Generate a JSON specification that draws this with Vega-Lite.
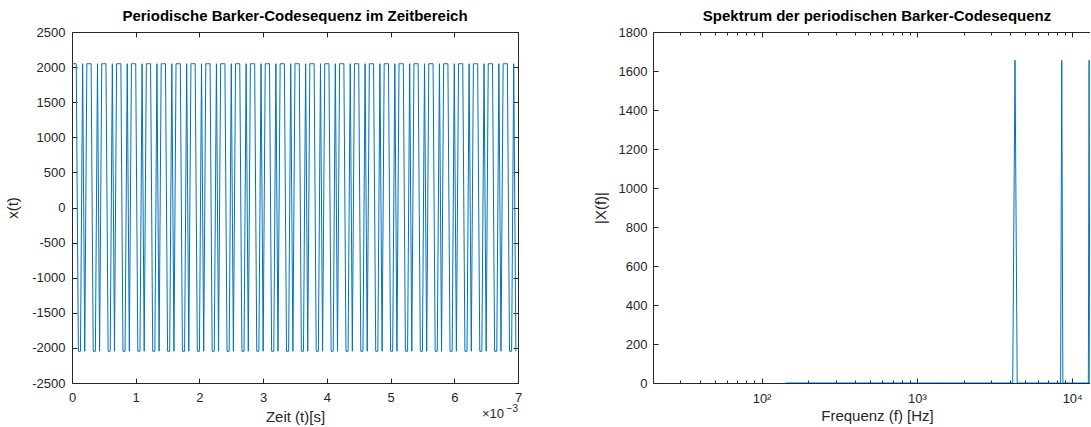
{
  "$schema": "https://vega.github.io/schema/vega-lite/v6.json",
  "background": "white",
  "padding": {"left": 5, "top": 8, "right": 0, "bottom": 0},
  "datasets": {
    "ts": [
      {"t":0,"x":2048},{"t":0.033,"x":2048},{"t":0.067,"x":2048},{"t":0.1,"x":-2048},{"t":0.133,"x":-2048},{"t":0.167,"x":2048},{"t":0.2,"x":-2048},
      {"t":0.233,"x":2048},{"t":0.267,"x":2048},{"t":0.3,"x":2048},{"t":0.333,"x":-2048},{"t":0.367,"x":-2048},{"t":0.4,"x":2048},{"t":0.433,"x":-2048},
      {"t":0.467,"x":2048},{"t":0.5,"x":2048},{"t":0.533,"x":2048},{"t":0.567,"x":-2048},{"t":0.6,"x":-2048},{"t":0.633,"x":2048},{"t":0.667,"x":-2048},
      {"t":0.7,"x":2048},{"t":0.733,"x":2048},{"t":0.767,"x":2048},{"t":0.8,"x":-2048},{"t":0.833,"x":-2048},{"t":0.867,"x":2048},{"t":0.9,"x":-2048},
      {"t":0.933,"x":2048},{"t":0.967,"x":2048},{"t":1,"x":2048},{"t":1.033,"x":-2048},{"t":1.067,"x":-2048},{"t":1.1,"x":2048},{"t":1.133,"x":-2048},
      {"t":1.167,"x":2048},{"t":1.2,"x":2048},{"t":1.233,"x":2048},{"t":1.267,"x":-2048},{"t":1.3,"x":-2048},{"t":1.333,"x":2048},{"t":1.367,"x":-2048},
      {"t":1.4,"x":2048},{"t":1.433,"x":2048},{"t":1.467,"x":2048},{"t":1.5,"x":-2048},{"t":1.533,"x":-2048},{"t":1.567,"x":2048},{"t":1.6,"x":-2048},
      {"t":1.633,"x":2048},{"t":1.667,"x":2048},{"t":1.7,"x":2048},{"t":1.733,"x":-2048},{"t":1.767,"x":-2048},{"t":1.8,"x":2048},{"t":1.833,"x":-2048},
      {"t":1.867,"x":2048},{"t":1.9,"x":2048},{"t":1.933,"x":2048},{"t":1.967,"x":-2048},{"t":2,"x":-2048},{"t":2.033,"x":2048},{"t":2.067,"x":-2048},
      {"t":2.1,"x":2048},{"t":2.133,"x":2048},{"t":2.167,"x":2048},{"t":2.2,"x":-2048},{"t":2.233,"x":-2048},{"t":2.267,"x":2048},{"t":2.3,"x":-2048},
      {"t":2.333,"x":2048},{"t":2.367,"x":2048},{"t":2.4,"x":2048},{"t":2.433,"x":-2048},{"t":2.467,"x":-2048},{"t":2.5,"x":2048},{"t":2.533,"x":-2048},
      {"t":2.567,"x":2048},{"t":2.6,"x":2048},{"t":2.633,"x":2048},{"t":2.667,"x":-2048},{"t":2.7,"x":-2048},{"t":2.733,"x":2048},{"t":2.767,"x":-2048},
      {"t":2.8,"x":2048},{"t":2.833,"x":2048},{"t":2.867,"x":2048},{"t":2.9,"x":-2048},{"t":2.933,"x":-2048},{"t":2.967,"x":2048},{"t":3,"x":-2048},
      {"t":3.033,"x":2048},{"t":3.067,"x":2048},{"t":3.1,"x":2048},{"t":3.133,"x":-2048},{"t":3.167,"x":-2048},{"t":3.2,"x":2048},{"t":3.233,"x":-2048},
      {"t":3.267,"x":2048},{"t":3.3,"x":2048},{"t":3.333,"x":2048},{"t":3.367,"x":-2048},{"t":3.4,"x":-2048},{"t":3.433,"x":2048},{"t":3.467,"x":-2048},
      {"t":3.5,"x":2048},{"t":3.533,"x":2048},{"t":3.567,"x":2048},{"t":3.6,"x":-2048},{"t":3.633,"x":-2048},{"t":3.667,"x":2048},{"t":3.7,"x":-2048},
      {"t":3.733,"x":2048},{"t":3.767,"x":2048},{"t":3.8,"x":2048},{"t":3.833,"x":-2048},{"t":3.867,"x":-2048},{"t":3.9,"x":2048},{"t":3.933,"x":-2048},
      {"t":3.967,"x":2048},{"t":4,"x":2048},{"t":4.033,"x":2048},{"t":4.067,"x":-2048},{"t":4.1,"x":-2048},{"t":4.133,"x":2048},{"t":4.167,"x":-2048},
      {"t":4.2,"x":2048},{"t":4.233,"x":2048},{"t":4.267,"x":2048},{"t":4.3,"x":-2048},{"t":4.333,"x":-2048},{"t":4.367,"x":2048},{"t":4.4,"x":-2048},
      {"t":4.433,"x":2048},{"t":4.467,"x":2048},{"t":4.5,"x":2048},{"t":4.533,"x":-2048},{"t":4.567,"x":-2048},{"t":4.6,"x":2048},{"t":4.633,"x":-2048},
      {"t":4.667,"x":2048},{"t":4.7,"x":2048},{"t":4.733,"x":2048},{"t":4.767,"x":-2048},{"t":4.8,"x":-2048},{"t":4.833,"x":2048},{"t":4.867,"x":-2048},
      {"t":4.9,"x":2048},{"t":4.933,"x":2048},{"t":4.967,"x":2048},{"t":5,"x":-2048},{"t":5.033,"x":-2048},{"t":5.067,"x":2048},{"t":5.1,"x":-2048},
      {"t":5.133,"x":2048},{"t":5.167,"x":2048},{"t":5.2,"x":2048},{"t":5.233,"x":-2048},{"t":5.267,"x":-2048},{"t":5.3,"x":2048},{"t":5.333,"x":-2048},
      {"t":5.367,"x":2048},{"t":5.4,"x":2048},{"t":5.433,"x":2048},{"t":5.467,"x":-2048},{"t":5.5,"x":-2048},{"t":5.533,"x":2048},{"t":5.567,"x":-2048},
      {"t":5.6,"x":2048},{"t":5.633,"x":2048},{"t":5.667,"x":2048},{"t":5.7,"x":-2048},{"t":5.733,"x":-2048},{"t":5.767,"x":2048},{"t":5.8,"x":-2048},
      {"t":5.833,"x":2048},{"t":5.867,"x":2048},{"t":5.9,"x":2048},{"t":5.933,"x":-2048},{"t":5.967,"x":-2048},{"t":6,"x":2048},{"t":6.033,"x":-2048},
      {"t":6.067,"x":2048},{"t":6.1,"x":2048},{"t":6.133,"x":2048},{"t":6.167,"x":-2048},{"t":6.2,"x":-2048},{"t":6.233,"x":2048},{"t":6.267,"x":-2048},
      {"t":6.3,"x":2048},{"t":6.333,"x":2048},{"t":6.367,"x":2048},{"t":6.4,"x":-2048},{"t":6.433,"x":-2048},{"t":6.467,"x":2048},{"t":6.5,"x":-2048},
      {"t":6.533,"x":2048},{"t":6.567,"x":2048},{"t":6.6,"x":2048},{"t":6.633,"x":-2048},{"t":6.667,"x":-2048},{"t":6.7,"x":2048},{"t":6.733,"x":-2048},
      {"t":6.767,"x":2048},{"t":6.8,"x":2048},{"t":6.833,"x":2048},{"t":6.867,"x":-2048},{"t":6.9,"x":-2048},{"t":6.933,"x":2048},{"t":6.967,"x":-2048}
    ],
    "spec": [
      {"f":142.9,"m":0},{"f":285.7,"m":0},{"f":428.6,"m":0},{"f":571.4,"m":0},{"f":714.3,"m":0},{"f":857.1,"m":0},{"f":1000,"m":0},
      {"f":1142.9,"m":0},{"f":1285.7,"m":0},{"f":1428.6,"m":0},{"f":1571.4,"m":0},{"f":1714.3,"m":0},{"f":1857.1,"m":0},{"f":2000,"m":0},
      {"f":2142.9,"m":0},{"f":2285.7,"m":0},{"f":2428.6,"m":0},{"f":2571.4,"m":0},{"f":2714.3,"m":0},{"f":2857.1,"m":0},{"f":3000,"m":0},
      {"f":3142.9,"m":0},{"f":3285.7,"m":0},{"f":3428.6,"m":0},{"f":3571.4,"m":0},{"f":3714.3,"m":0},{"f":3857.1,"m":0},{"f":4000,"m":0},
      {"f":4142.9,"m":0},{"f":4285.7,"m":1655},{"f":4428.6,"m":0},{"f":4571.4,"m":0},{"f":4714.3,"m":0},{"f":4857.1,"m":0},{"f":5000,"m":0},
      {"f":5142.9,"m":0},{"f":5285.7,"m":0},{"f":5428.6,"m":0},{"f":5571.4,"m":0},{"f":5714.3,"m":0},{"f":5857.1,"m":0},{"f":6000,"m":0},
      {"f":6142.9,"m":0},{"f":6285.7,"m":0},{"f":6428.6,"m":0},{"f":6571.4,"m":0},{"f":6714.3,"m":0},{"f":6857.1,"m":0},{"f":7000,"m":0},
      {"f":7142.9,"m":0},{"f":7285.7,"m":0},{"f":7428.6,"m":0},{"f":7571.4,"m":0},{"f":7714.3,"m":0},{"f":7857.1,"m":0},{"f":8000,"m":0},
      {"f":8142.9,"m":0},{"f":8285.7,"m":0},{"f":8428.6,"m":0},{"f":8571.4,"m":1655},{"f":8714.3,"m":0},{"f":8857.1,"m":0},{"f":9000,"m":0},
      {"f":9142.9,"m":0},{"f":9285.7,"m":0},{"f":9428.6,"m":0},{"f":9571.4,"m":0},{"f":9714.3,"m":0},{"f":9857.1,"m":0},{"f":10000,"m":0},
      {"f":10142.9,"m":0},{"f":10285.7,"m":0},{"f":10428.6,"m":0},{"f":10571.4,"m":0},{"f":10714.3,"m":0},{"f":10857.1,"m":0},{"f":11000,"m":0},
      {"f":11142.9,"m":0},{"f":11285.7,"m":0},{"f":11428.6,"m":0},{"f":11571.4,"m":0},{"f":11714.3,"m":0},{"f":11857.1,"m":0},{"f":12000,"m":0},
      {"f":12142.9,"m":0},{"f":12285.7,"m":0},{"f":12428.6,"m":0},{"f":12571.4,"m":0},{"f":12714.3,"m":0},{"f":12857.1,"m":1655},{"f":13000,"m":0},
      {"f":13142.9,"m":0},{"f":13285.7,"m":0},{"f":13428.6,"m":0},{"f":13571.4,"m":0},{"f":13714.3,"m":0},{"f":13857.1,"m":0},{"f":14000,"m":0},
      {"f":14142.9,"m":0},{"f":14285.7,"m":0},{"f":14428.6,"m":0},{"f":14571.4,"m":0},{"f":14714.3,"m":0},{"f":14857.1,"m":0},{"f":15000,"m":0}
    ]
  },
  "bounds": "flush",
  "spacing": 135,
  "hconcat": [
    {
      "width": 446,
      "height": 351,
      "title": {"text": "Periodische Barker-Codesequenz im Zeitbereich", "frame": "group"},
      "data": {"name": "ts"},
      "resolve": {"axis": {"x": "independent", "y": "independent"}},
      "layer": [
        {
          "mark": {"type": "line", "color": "#0072BD", "strokeWidth": 1},
          "encoding": {
            "x": {"field": "t", "type": "quantitative", "scale": {"domain": [0, 7], "nice": false},
                  "axis": {"orient": "bottom", "values": [0,1,2,3,4,5,6,7], "labelExpr": "datum.value + ''", "ticks": false, "domain": false, "labelPadding": 8, "title": "Zeit (t)[s]", "titlePadding": 5}},
            "y": {"field": "x", "type": "quantitative", "scale": {"domain": [-2500, 2500], "nice": false},
                  "axis": {"orient": "left", "values": [-2500,-2000,-1500,-1000,-500,0,500,1000,1500,2000,2500], "labelExpr": "datum.value + ''", "ticks": false, "domain": false, "labelPadding": 7, "title": "x(t)", "titlePadding": 11}}
          }
        },
        {
          "mark": {"type": "line", "strokeOpacity": 0},
          "encoding": {
            "x": {"field": "t", "type": "quantitative", "scale": {"domain": [0, 7], "nice": false},
                  "axis": {"orient": "bottom", "offset": -5, "values": [0,1,2,3,4,5,6,7], "ticks": true, "tickSize": 5, "labels": false, "domain": false, "title": null}},
            "y": {"field": "x", "type": "quantitative", "scale": {"domain": [-2500, 2500], "nice": false},
                  "axis": {"orient": "left", "offset": -5, "values": [-2500,-2000,-1500,-1000,-500,0,500,1000,1500,2000,2500], "ticks": true, "tickSize": 5, "labels": false, "domain": false, "title": null}}
          }
        },
        {
          "mark": {"type": "line", "strokeOpacity": 0},
          "encoding": {
            "x": {"field": "t", "type": "quantitative", "scale": {"domain": [0, 7], "nice": false},
                  "axis": {"orient": "top", "offset": -5, "values": [0,1,2,3,4,5,6,7], "ticks": true, "tickSize": 5, "labels": false, "domain": false, "title": null}},
            "y": {"field": "x", "type": "quantitative", "scale": {"domain": [-2500, 2500], "nice": false},
                  "axis": {"orient": "right", "offset": -5, "values": [-2500,-2000,-1500,-1000,-500,0,500,1000,1500,2000,2500], "ticks": true, "tickSize": 5, "labels": false, "domain": false, "title": null}}
          }
        },
        {
          "data": {"values": [{"base": "×10", "exp": "−3"}]},
          "mark": {"type": "text", "align": "right", "baseline": "alphabetic", "dx": -14, "dy": 35, "fontSize": 13, "color": "#262626", "font": "Liberation Sans"},
          "encoding": {
            "x": {"datum": 7, "type": "quantitative", "axis": null},
            "y": {"datum": -2500, "type": "quantitative", "axis": null},
            "text": {"field": "base"}
          }
        },
        {
          "data": {"values": [{"base": "×10", "exp": "−3"}]},
          "mark": {"type": "text", "align": "right", "baseline": "alphabetic", "dx": 0, "dy": 29, "fontSize": 10, "color": "#262626", "font": "Liberation Sans"},
          "encoding": {
            "x": {"datum": 7, "type": "quantitative", "axis": null},
            "y": {"datum": -2500, "type": "quantitative", "axis": null},
            "text": {"field": "exp"}
          }
        }
      ]
    },
    {
      "width": 437,
      "height": 351,
      "view": {"stroke": null},
      "title": {"text": "Spektrum der periodischen Barker-Codesequenz", "frame": "group", "dx": 5.5},
      "data": {"name": "spec"},
      "resolve": {"axis": {"x": "independent", "y": "independent"}},
      "layer": [
        {
          "mark": {"type": "line", "color": "#0072BD", "strokeWidth": 1, "clip": true},
          "encoding": {
            "x": {"field": "f", "type": "quantitative", "scale": {"type": "log", "domain": [20, 13030], "nice": false},
                  "axis": {"orient": "bottom", "values": [100, 1000, 10000], "labelExpr": "datum.value == 100 ? '10²' : datum.value == 1000 ? '10³' : '10⁴'", "ticks": false, "domain": true, "labelPadding": 9, "title": "Frequenz (f) [Hz]", "titlePadding": 3, "titleX": 224}},
            "y": {"field": "m", "type": "quantitative", "scale": {"domain": [0, 1800], "nice": false},
                  "axis": {"orient": "left", "values": [0,200,400,600,800,1000,1200,1400,1600,1800], "labelExpr": "datum.value + ''", "ticks": false, "domain": true, "labelPadding": 6, "title": "|X(f)|", "titlePadding": 10}}
          }
        },
        {
          "mark": {"type": "line", "strokeOpacity": 0, "clip": true},
          "encoding": {
            "x": {"field": "f", "type": "quantitative", "scale": {"type": "log", "domain": [20, 13030], "nice": false},
                  "axis": {"orient": "bottom", "offset": -5, "values": [100, 1000, 10000], "ticks": true, "tickSize": 5, "labels": false, "domain": false, "title": null}},
            "y": {"field": "m", "type": "quantitative", "scale": {"domain": [0, 1800], "nice": false},
                  "axis": {"orient": "left", "offset": -5, "values": [0,200,400,600,800,1000,1200,1400,1600,1800], "ticks": true, "tickSize": 5, "labels": false, "domain": false, "title": null}}
          }
        },
        {
          "mark": {"type": "line", "strokeOpacity": 0, "clip": true},
          "encoding": {
            "x": {"field": "f", "type": "quantitative", "scale": {"type": "log", "domain": [20, 13030], "nice": false},
                  "axis": {"orient": "top", "values": [100, 1000, 10000], "ticks": false, "labels": false, "domain": true, "title": null}},
            "y": {"field": "m", "type": "quantitative", "scale": {"domain": [0, 1800], "nice": false}, "axis": null}
          }
        },
        {
          "mark": {"type": "line", "strokeOpacity": 0, "clip": true},
          "encoding": {
            "x": {"field": "f", "type": "quantitative", "scale": {"type": "log", "domain": [20, 13030], "nice": false},
                  "axis": {"orient": "top", "offset": -5, "values": [100, 1000, 10000], "ticks": true, "tickSize": 5, "labels": false, "domain": false, "title": null}},
            "y": {"field": "m", "type": "quantitative", "scale": {"domain": [0, 1800], "nice": false}, "axis": null}
          }
        },
        {
          "mark": {"type": "line", "strokeOpacity": 0, "clip": true},
          "encoding": {
            "x": {"field": "f", "type": "quantitative", "scale": {"type": "log", "domain": [20, 13030], "nice": false},
                  "axis": {"orient": "bottom", "offset": -3, "values": [30,40,50,60,70,80,90,200,300,400,500,600,700,800,900,2000,3000,4000,5000,6000,7000,8000,9000], "ticks": true, "tickSize": 3, "labels": false, "domain": false, "title": null}},
            "y": {"field": "m", "type": "quantitative", "scale": {"domain": [0, 1800], "nice": false}, "axis": null}
          }
        },
        {
          "mark": {"type": "line", "strokeOpacity": 0, "clip": true},
          "encoding": {
            "x": {"field": "f", "type": "quantitative", "scale": {"type": "log", "domain": [20, 13030], "nice": false},
                  "axis": {"orient": "top", "offset": -3, "values": [30,40,50,60,70,80,90,200,300,400,500,600,700,800,900,2000,3000,4000,5000,6000,7000,8000,9000], "ticks": true, "tickSize": 3, "labels": false, "domain": false, "title": null}},
            "y": {"field": "m", "type": "quantitative", "scale": {"domain": [0, 1800], "nice": false}, "axis": null}
          }
        }
      ]
    }
  ],
  "config": {
    "font": "Liberation Sans",
    "view": {"stroke": "#262626", "strokeWidth": 1},
    "axis": {
      "grid": false,
      "labelFont": "Liberation Sans",
      "labelFontSize": 13,
      "labelColor": "#262626",
      "labelFlush": false,
      "labelOverlap": false,
      "titleFont": "Liberation Sans",
      "titleFontSize": 15,
      "titleFontWeight": "normal",
      "titleColor": "#262626",
      "domainColor": "#262626",
      "domainWidth": 1,
      "tickColor": "#262626",
      "tickWidth": 1
    },
    "title": {"font": "Liberation Sans", "fontSize": 15, "fontWeight": "bold", "color": "#000000", "offset": 2}
  }
}
